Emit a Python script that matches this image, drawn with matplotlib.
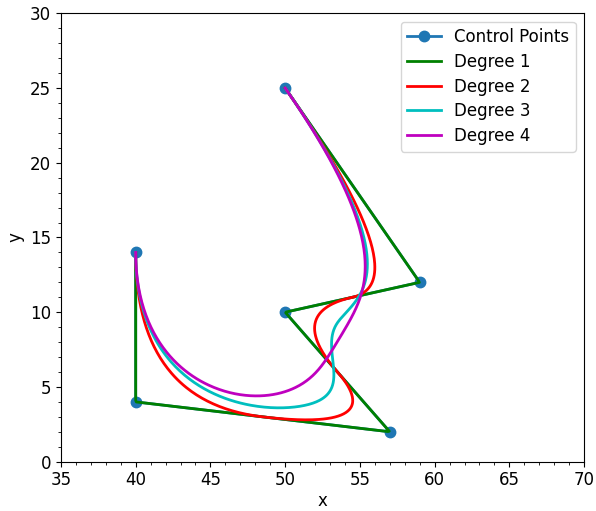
import matplotlib
matplotlib.use("Agg")
import matplotlib.pyplot as plt
import numpy as np
from matplotlib.ticker import MultipleLocator

plt.rcParams['font.size'] = 12

# Control polygon
ctrl_x = [50, 59, 50, 57, 40, 40]
ctrl_y = [25, 12, 10, 2, 4, 14]
degrees = [1, 2, 3, 4]
colors = ['g', 'r', 'c', 'm']


def bspline(px, py, k, n=400):
    # clamped uniform knot vector, evaluated with de Boor
    P = np.column_stack([px, py]).astype(float)
    m = len(P)
    inner = np.linspace(0, 1, m - k + 1)
    knots = np.concatenate([np.zeros(k), inner, np.ones(k)])
    out = []
    for t in np.linspace(0, 1, n):
        s = np.searchsorted(knots, t, side='right') - 1
        s = min(max(s, k), m - 1)
        d = [P[j + s - k].copy() for j in range(k + 1)]
        for r in range(1, k + 1):
            for j in range(k, r - 1, -1):
                a = (t - knots[j + s - k]) / (knots[j + 1 + s - r] - knots[j + s - k])
                d[j] = (1 - a) * d[j - 1] + a * d[j]
        out.append(d[k])
    out = np.array(out)
    return out[:, 0], out[:, 1]


fig, ax = plt.subplots(figsize=(5.96, 5.11), dpi=100)
ax.plot(ctrl_x, ctrl_y, 'o-', color='tab:blue', markersize=7.5, linewidth=2, label='Control Points')
for k, c in zip(degrees, colors):
    cx, cy = bspline(ctrl_x, ctrl_y, k)
    ax.plot(cx, cy, color=c, linewidth=2, label='Degree %d' % k)

ax.set_xlim(35, 70)
ax.set_ylim(0, 30)
ax.xaxis.set_major_locator(MultipleLocator(5))
ax.yaxis.set_major_locator(MultipleLocator(5))
ax.xaxis.set_minor_locator(MultipleLocator(1))
ax.yaxis.set_minor_locator(MultipleLocator(1))
ax.set_xlabel('x', labelpad=2)
ax.set_ylabel('y')
ax.legend(loc='upper right', labelspacing=0.4)
fig.subplots_adjust(left=0.1023, right=0.98, top=0.974, bottom=0.0965)
fig.savefig('out.png')
